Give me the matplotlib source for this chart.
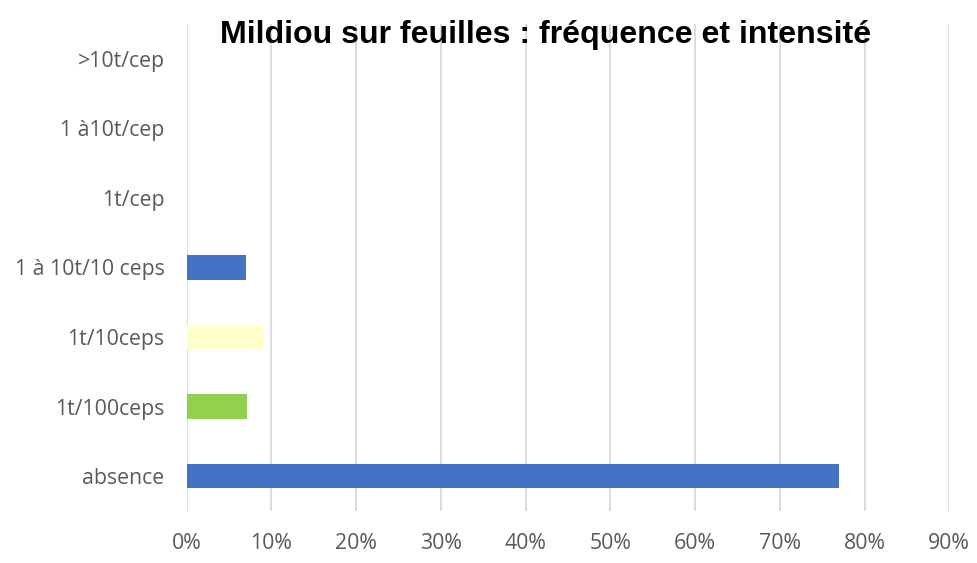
import matplotlib
matplotlib.use("Agg")
import matplotlib.pyplot as plt
from matplotlib.ticker import PercentFormatter

categories = ["absence", "1t/100ceps", "1t/10ceps", "1 à 10t/10 ceps", "1t/cep", "1 à10t/cep", ">10t/cep"]
values = [77.0, 7.1, 9.1, 7.0, 0.0, 0.0, 0.0]
colors = ["#4472C4", "#92D050", "#FFFFCC", "#4472C4", "#4472C4", "#4472C4", "#4472C4"]
xticks = [0, 10, 20, 30, 40, 50, 60, 70, 80, 90]
title = "Mildiou sur feuilles : fréquence et intensité"

fig = plt.figure(figsize=(9.77, 5.63), dpi=100)
ax = fig.add_axes([186.7/977, 1-511/563, (949.3-186.7)/977, (511-24)/563])
ypos = list(range(len(categories)))
ax.barh(ypos, values, height=0.35, color=colors, zorder=3)
ax.set_xlim(0, 90)
ax.set_ylim(-0.5, len(categories)-0.5)
ax.set_xticks(xticks)
ax.xaxis.set_major_formatter(PercentFormatter(decimals=0))
ax.set_yticks(ypos)
ax.set_yticklabels(categories)
ax.grid(axis="x", color="#D9D9D9", linewidth=1.3, zorder=0)
for s in ax.spines.values():
    s.set_visible(False)
ax.tick_params(length=0, labelsize=15.3, labelcolor="#595959")
ax.tick_params(axis="y", pad=16)
ax.tick_params(axis="x", pad=15.5)
for lab in ax.get_xticklabels() + ax.get_yticklabels():
    lab.set_family("Open Sans")
fig.text(546/977, 1-35/563, title, ha="center", va="center", fontsize=23.1,
         fontweight="bold", family="Liberation Sans", color="black")
fig.savefig("out.png", dpi=100, facecolor="white")
